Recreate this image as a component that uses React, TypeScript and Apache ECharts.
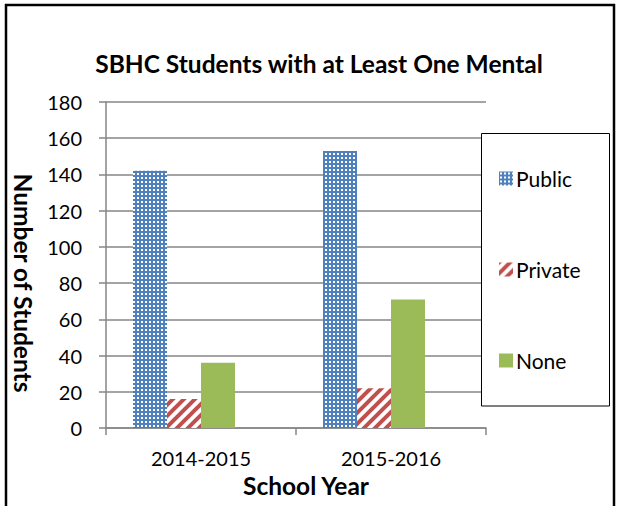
import React, { useEffect, useRef } from "react";
import * as echarts from "echarts";

const categories = ["2014-2015", "2015-2016"];
const publicValues = [142, 153];
const privateValues = [16, 22];
const noneValues = [36, 71];
const seriesNames = ["Public", "Private", "None"];
const titleText = "SBHC Students with at Least One Mental";
const yAxisTitle = "Number of Students";
const xAxisTitle = "School Year";

const FONT = "Lato, 'Open Sans', sans-serif";

function makeDotPattern(): HTMLCanvasElement {
  const c = document.createElement("canvas");
  c.width = 4;
  c.height = 4;
  const ctx = c.getContext("2d")!;
  ctx.fillStyle = "#4F81BD";
  ctx.fillRect(0, 0, 4, 4);
  ctx.fillStyle = "#ffffff";
  ctx.fillRect(1, 1, 2, 2);
  return c;
}

function makeStripePattern(): HTMLCanvasElement {
  const s = 11;
  const c = document.createElement("canvas");
  c.width = s;
  c.height = s;
  const ctx = c.getContext("2d")!;
  ctx.fillStyle = "#ffffff";
  ctx.fillRect(0, 0, s, s);
  ctx.strokeStyle = "#C0504D";
  ctx.lineWidth = 4;
  ctx.beginPath();
  ctx.moveTo(-2, s + 2);
  ctx.lineTo(s + 2, -2);
  ctx.moveTo(-2 - s, s + 2);
  ctx.lineTo(2, -2);
  ctx.moveTo(s - 2, 2 + s);
  ctx.lineTo(s * 2 + 2, -2);
  ctx.stroke();
  return c;
}

export default function App() {
  const ref = useRef<HTMLDivElement>(null);
  useEffect(() => {
    if (!ref.current) return;
    const chart = echarts.init(ref.current, undefined, { renderer: "svg" });
    const dot = { image: makeDotPattern(), repeat: "repeat" };
    const stripe = { image: makeStripePattern(), repeat: "repeat" };
    const grey = "#868686";
    chart.setOption({
      animation: false,
      backgroundColor: "#ffffff",
      title: {
        text: titleText,
        left: 314,
        textAlign: "center",
        top: 46,
        textStyle: { fontFamily: FONT, fontWeight: "bold", fontSize: 24.5, color: "#000" },
      },
      graphic: [
        {
          type: "rect",
          shape: { x: 6, y: 5, width: 608, height: 540 },
          style: { fill: "none", stroke: "#000", lineWidth: 2.5 },
          z: 100,
        },
        {
          type: "rect",
          shape: { x: 481.5, y: 133.5, width: 128, height: 272.5 },
          style: { fill: "#fff", stroke: "#000", lineWidth: 1 },
          z: 5,
        },
      ],
      legend: {
        data: seriesNames,
        orient: "vertical",
        left: 494,
        top: 163,
        itemWidth: 14,
        itemHeight: 14,
        itemGap: 70,
        icon: "rect",
        textStyle: { fontFamily: FONT, fontSize: 21, color: "#000", padding: [0, 0, 0, -2] },
        z: 10,
      },
      grid: { left: 106, right: 131, top: 102, bottom: 78, containLabel: false },
      xAxis: {
        type: "category",
        data: categories,
        name: xAxisTitle,
        nameLocation: "middle",
        nameGap: 42,
        nameTextStyle: {
          fontFamily: FONT,
          fontWeight: "bold",
          fontSize: 24.5,
          color: "#000",
          padding: [0, 0, 0, 20],
        },
        axisLine: { lineStyle: { color: grey, width: 1.5 } },
        axisTick: { show: true, length: 7, lineStyle: { color: grey, width: 1.5 } },
        axisLabel: { fontFamily: FONT, fontSize: 20, color: "#000", margin: 20 },
      },
      yAxis: {
        type: "value",
        min: 0,
        max: 180,
        interval: 20,
        name: yAxisTitle,
        nameLocation: "middle",
        nameGap: 63,
        nameRotate: 270,
        nameTextStyle: {
          fontFamily: FONT,
          fontWeight: "bold",
          fontSize: 24.5,
          color: "#000",
          padding: [0, 0, 0, 36],
        },
        axisLine: { show: true, lineStyle: { color: grey, width: 1.5 } },
        axisTick: { show: true, length: 7, lineStyle: { color: grey, width: 1.5 } },
        axisLabel: { fontFamily: FONT, fontSize: 20, color: "#000", margin: 24 },
        splitLine: { lineStyle: { color: grey, width: 1.5 } },
      },
      series: [
        {
          name: seriesNames[0],
          type: "bar",
          data: publicValues,
          barWidth: 34,
          barGap: "0%",
          itemStyle: { color: dot as any },
        },
        {
          name: seriesNames[1],
          type: "bar",
          data: privateValues,
          barWidth: 34,
          barGap: "0%",
          itemStyle: { color: stripe as any },
        },
        {
          name: seriesNames[2],
          type: "bar",
          data: noneValues,
          barWidth: 34,
          barGap: "0%",
          itemStyle: { color: "#9BBB59" },
        },
        {
          name: "_spacer",
          type: "bar",
          data: [null, null],
          barWidth: 34,
          barGap: "0%",
          itemStyle: { color: "transparent" },
        },
      ],
    });
    return () => chart.dispose();
  }, []);
  return (
    <div
      ref={ref}
      style={{ position: "fixed", left: 0, top: 0, width: 617, height: 506 }}
    />
  );
}
